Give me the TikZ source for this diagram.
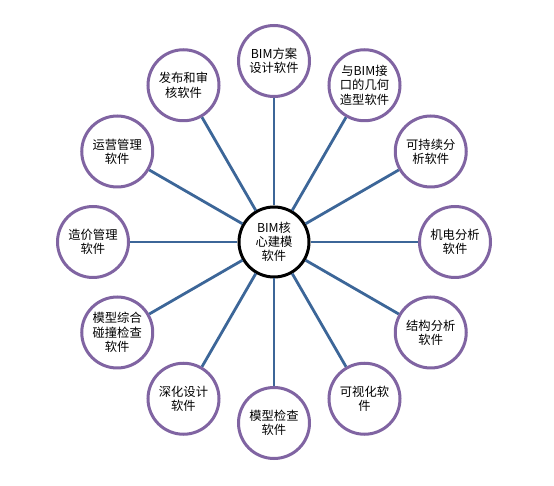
\documentclass[tikz,border=0pt]{standalone}
\usepackage{fontspec}
\setmainfont{Noto Sans CJK SC}
\definecolor{ringpurple}{RGB}{128,100,162}
\definecolor{spokeblue}{RGB}{60,102,152}

\begin{document}
\begin{tikzpicture}
\tikzstyle{every node}=[align=center, font=\fontsize{12.3}{14.3}\selectfont, inner sep=0pt]
\tikzstyle{soft}=[circle, draw=ringpurple, line width=3pt, fill=white, minimum size=71pt]
\tikzstyle{core}=[circle, draw=black, line width=3pt, fill=white, minimum size=70pt]
\tikzstyle{spoke}=[draw=spokeblue, line width=2.8pt]
\useasboundingbox (-274pt,242pt) rectangle (280pt,-244pt);
\node[core] (hub) at (0,0) {BIM核\\心建模\\软件};
\foreach \ang/\txt [count=\i] in {
  90/{BIM方案\\设计软件},
  60/{与BIM接\\口的几何\\造型软件},
  30/{可持续分\\析软件},
  0/{机电分析\\软件},
  -30/{结构分析\\软件},
  -60/{可视化软\\件},
  -90/{模型检查\\软件},
  -120/{深化设计\\软件},
  -150/{模型综合\\碰撞检查\\软件},
  180/{造价管理\\软件},
  150/{运营管理\\软件},
  120/{发布和审\\核软件}}
{
  \node[soft] (app\i) at (\ang:181pt) {\txt};
  \path[spoke] (hub) -- (app\i);
}
\end{tikzpicture}
\end{document}
